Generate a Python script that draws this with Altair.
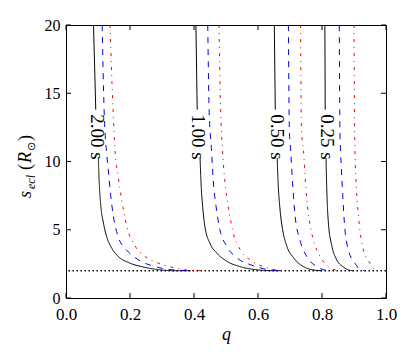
import altair as alt
import pandas as pd

FONT = "Liberation Serif"

q_ticks = [0.0, 0.2, 0.4, 0.6, 0.8, 1.0]
s_ticks = [0, 5, 10, 15, 20]
contact_s = [2.0]

# 2.00 s group
q_200_solid = [0.086, 0.093, 0.101, 0.104, 0.109, 0.117, 0.127, 0.143, 0.163, 0.195, 0.236, 0.289, 0.341, 0.39]
s_200_solid = [20, 13.8, 10.3, 8.4, 6.7, 5.5, 4.5, 3.65, 3.05, 2.6, 2.3, 2.08, 2.0, 2.0]
q_200_dashed = [0.113, 0.119, 0.127, 0.132, 0.138, 0.148, 0.163, 0.190, 0.226, 0.278, 0.330, 0.39]
s_200_dashed = [20, 13.8, 10.6, 9.4, 7.9, 6.0, 4.5, 3.5, 2.8, 2.3, 2.07, 2.0]
q_200_dashdot = [0.1375, 0.147, 0.153, 0.163, 0.174, 0.190, 0.216, 0.247, 0.289, 0.341, 0.393, 0.42]
s_200_dashdot = [20, 13.8, 10.85, 8.9, 7.2, 5.25, 3.8, 3.05, 2.55, 2.2, 2.02, 2.0]

# 1.00 s group
q_100_solid = [0.406, 0.410, 0.419, 0.422, 0.427, 0.434, 0.450, 0.471, 0.502, 0.544, 0.596, 0.648, 0.67]
s_100_solid = [20, 13.8, 10.25, 8.4, 6.7, 5.25, 4.0, 3.3, 2.7, 2.3, 2.07, 2.0, 2.0]
q_100_dashed = [0.443, 0.447, 0.455, 0.460, 0.469, 0.481, 0.502, 0.533, 0.575, 0.617, 0.669]
s_100_dashed = [20, 14, 10.7, 8.65, 6.7, 5.0, 3.8, 2.95, 2.45, 2.15, 2.0]
q_100_dashdot = [0.478, 0.483, 0.489, 0.496, 0.507, 0.523, 0.544, 0.575, 0.617, 0.669, 0.69]
s_100_dashdot = [20, 14, 10.85, 8.65, 6.7, 4.75, 3.55, 2.8, 2.3, 2.02, 2.0]

# 0.50 s group
q_050_solid = [0.651, 0.654, 0.660, 0.663, 0.669, 0.677, 0.690, 0.711, 0.742, 0.784, 0.80]
s_050_solid = [20, 13.8, 10.25, 8.4, 6.45, 5.0, 3.8, 2.95, 2.3, 2.02, 2.0]
q_050_dashed = [0.695, 0.698, 0.702, 0.708, 0.716, 0.731, 0.752, 0.784, 0.815, 0.83]
s_050_dashed = [20, 12.3, 10.85, 8.4, 6.0, 4.25, 3.05, 2.3, 2.02, 2.0]
q_050_dashdot = [0.733, 0.736, 0.742, 0.750, 0.760, 0.773, 0.794, 0.820, 0.856, 0.87]
s_050_dashdot = [20, 12.3, 10.85, 7.9, 5.75, 4.25, 3.05, 2.3, 2.0, 2.0]

# 0.25 s group
q_025_solid = [0.809, 0.810, 0.8125, 0.815, 0.820, 0.831, 0.846, 0.867, 0.888, 0.90]
s_025_solid = [20, 13.8, 10.25, 7.9, 5.5, 3.8, 2.8, 2.27, 2.02, 2.0]
q_025_dashed = [0.854, 0.856, 0.858, 0.864, 0.870, 0.882, 0.903, 0.924, 0.935]
s_025_dashed = [20, 12.3, 10.85, 7.9, 5.5, 3.55, 2.55, 2.02, 2.0]
q_025_dashdot = [0.900, 0.902, 0.903, 0.908, 0.916, 0.929, 0.950, 0.965, 0.975]
s_025_dashdot = [20, 12.3, 10.85, 7.9, 5.5, 3.55, 2.55, 2.07, 2.0]

labels = ["2.00 s", "1.00 s", "0.50 s", "0.25 s"]
label_q = [0.097, 0.411, 0.658, 0.816]
label_s = [11.8, 11.8, 11.8, 11.8]

curves = {
    ("200", "solid"): (q_200_solid, s_200_solid),
    ("200", "dashed"): (q_200_dashed, s_200_dashed),
    ("200", "dashdot"): (q_200_dashdot, s_200_dashdot),
    ("100", "solid"): (q_100_solid, s_100_solid),
    ("100", "dashed"): (q_100_dashed, s_100_dashed),
    ("100", "dashdot"): (q_100_dashdot, s_100_dashdot),
    ("050", "solid"): (q_050_solid, s_050_solid),
    ("050", "dashed"): (q_050_dashed, s_050_dashed),
    ("050", "dashdot"): (q_050_dashdot, s_050_dashdot),
    ("025", "solid"): (q_025_solid, s_025_solid),
    ("025", "dashed"): (q_025_dashed, s_025_dashed),
    ("025", "dashdot"): (q_025_dashdot, s_025_dashdot),
}

rows = []
for (grp, style), (qs, ss) in curves.items():
    for i, (q, s) in enumerate(zip(qs, ss)):
        seg = "a"
        if style == "solid":
            seg = "a" if s >= 13 else "b"
        rows.append({"id": f"{grp}-{style}-{seg}", "style": style, "q": q, "s": s, "i": i})
df = pd.DataFrame(rows)

W, H = 320, 273

X = alt.X("q:Q", scale=alt.Scale(domain=[0, 1], nice=False, zero=False),
          axis=alt.Axis(values=q_ticks, format=".1f", ticks=False, domain=False, grid=False,
                        labelFont=FONT, labelFontSize=17, labelColor="black", labelPadding=8,
                        labelFlush=False, labelOverlap=False,
                        title="q", titleFont=FONT, titleFontStyle="italic", titleFontWeight="normal",
                        titleFontSize=18, titleColor="black", titlePadding=3))
Y = alt.Y("s:Q", scale=alt.Scale(domain=[0, 20], nice=False),
          axis=alt.Axis(values=s_ticks, format="d", ticks=False, domain=False, grid=False,
                        labelFont=FONT, labelFontSize=16, labelColor="black", labelPadding=6,
                        labelFlush=False, labelOverlap=False, title=None))

styles = {
    "solid": ("black", [1, 0]),
    "dashed": ("#0000ff", [6, 6]),
    "dashdot": ("#ff0000", [3, 5, 1, 5]),
}

layers = []
for style, (col, dash) in styles.items():
    layers.append(
        alt.Chart(df[df["style"] == style]).mark_line(
            color=col, strokeDash=dash, strokeWidth=1, interpolate="monotone", clip=True
        ).encode(x=X, y=Y, detail="id:N", order="i:Q")
    )

contact = alt.Chart(pd.DataFrame({"s": contact_s})).mark_rule(
    color="black", strokeDash=[1.5, 2.5], strokeWidth=1.5
).encode(y=Y)

lab = alt.Chart(pd.DataFrame({"q": label_q, "s": label_s, "t": labels})).mark_text(
    angle=90, align="center", baseline="middle", font=FONT, fontSize=19, color="black"
).encode(x=X, y=Y, text="t:N")

xt = pd.DataFrame({"q": q_ticks})
yt = pd.DataFrame({"s": s_ticks})
tick_b = alt.Chart(xt).mark_rule(color="black", strokeWidth=1).encode(x=X, y=alt.value(H), y2=alt.value(H - 5))
tick_t = alt.Chart(xt).mark_rule(color="black", strokeWidth=1).encode(x=X, y=alt.value(0), y2=alt.value(5))
tick_l = alt.Chart(yt).mark_rule(color="black", strokeWidth=1).encode(y=Y, x=alt.value(0), x2=alt.value(5))
tick_r = alt.Chart(yt).mark_rule(color="black", strokeWidth=1).encode(y=Y, x=alt.value(W), x2=alt.value(W - 5))

# y-axis title pieces: s_ecl (R_sun)
title_pieces = [
    ("s", 0, 18, "italic", 0),
    ("ecl", 9, 12, "italic", 4),
    ("(", 28, 18, "normal", 0),
    ("R", 35, 18, "italic", 0),
    ("\u2299", 47, 11, "normal", 4),
    (")", 57, 18, "normal", 0),
]
title_layers = []
for txt, up, size, fstyle, sub in title_pieces:
    title_layers.append(
        alt.Chart(pd.DataFrame({"t": [txt]})).mark_text(
            angle=270, align="left", baseline="alphabetic", font=FONT, fontSize=size,
            fontStyle=fstyle, color="black", dy=sub
        ).encode(x=alt.value(-35), y=alt.value(173 - up), text="t:N")
    )

chart = alt.layer(
    contact, *layers, lab, tick_b, tick_t, tick_l, tick_r, *title_layers
).properties(
    width=W, height=H,
    autosize=alt.AutoSizeParams(type="none"),
    padding={"left": 58, "top": 17, "right": 21, "bottom": 57},
    background="white",
).configure_view(stroke="black", strokeWidth=1)

chart.save("out.html", embed_options={"renderer": "svg", "actions": False})
